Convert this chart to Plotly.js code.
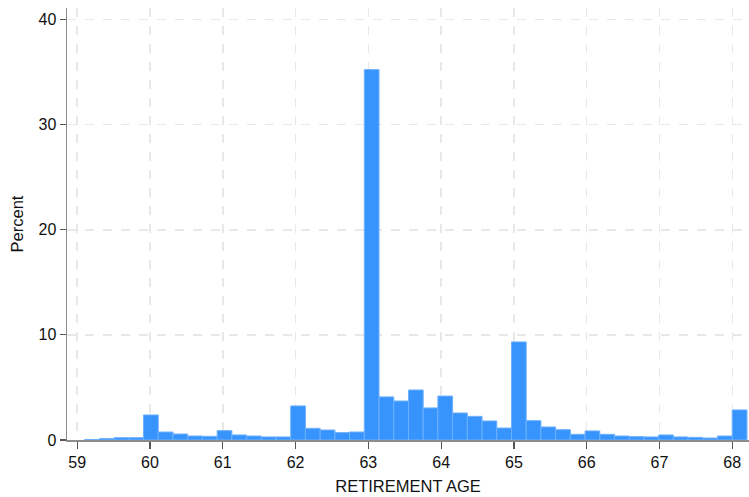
<!DOCTYPE html>
<html>
<head>
<meta charset="utf-8">
<script src="https://cdn.plot.ly/plotly-3.0.1.min.js"></script>
<style>
  html, body { margin: 0; padding: 0; background: #fff; overflow: hidden; }
  #chart { width: 749px; height: 497px; }
</style>
</head>
<body>
<div id="chart"></div>
<script>
// Histogram of retirement age: 45 equal-width bins, heights in percent
const binStart = 59.103;
const binWidth = 0.2022;
const percent = [
  0.05, 0.13, 0.22, 0.22, 2.38, 0.76, 0.57, 0.38, 0.35, 0.89,
  0.48, 0.38, 0.29, 0.29, 3.24, 1.11, 0.95, 0.70, 0.76, 35.24,
  4.10, 3.71, 4.76, 3.05, 4.18, 2.57, 2.25, 1.81, 1.14, 9.33,
  1.84, 1.24, 0.98, 0.54, 0.86, 0.54, 0.38, 0.32, 0.29, 0.48,
  0.29, 0.25, 0.19, 0.38, 2.86
];
const xTicks = [59, 60, 61, 62, 63, 64, 65, 66, 67, 68];
const yTicks = [0, 10, 20, 30, 40];

const centers = percent.map((_, i) => binStart + (i + 0.5) * binWidth);

const family = '"Liberation Sans", Arial, sans-serif';
const tickFont = { family: family, size: 16, color: '#111' };
const titleFont = { family: family, size: 16.5, color: '#111' };

const trace = {
  type: 'bar',
  x: centers,
  y: percent,
  width: binWidth,
  marker: { color: '#3894fd', line: { color: '#6cb0ff', width: 1 } },
  hoverinfo: 'x+y'
};

const axisCommon = {
  showgrid: true,
  gridcolor: '#e8e8e8',
  gridwidth: 1.5,
  griddash: 'dash',
  zeroline: false,
  showline: true,
  linecolor: '#8c8c8c',
  linewidth: 1.5,
  ticks: 'outside',
  tickcolor: '#555',
  tickwidth: 1.2,
  tickfont: tickFont
};

const layout = {
  width: 749,
  height: 497,
  margin: { l: 67, r: 0, t: 8, b: 57 },
  paper_bgcolor: '#fff',
  plot_bgcolor: '#fff',
  bargap: 0,
  showlegend: false,
  font: tickFont,
  xaxis: Object.assign({}, axisCommon, {
    range: [58.86, 68.23],
    tickvals: xTicks,
    ticklen: 7,
    title: { text: 'RETIREMENT AGE', font: titleFont, standoff: 10 }
  }),
  yaxis: Object.assign({}, axisCommon, {
    range: [0, 41.1],
    tickvals: yTicks,
    ticklen: 6,
    title: { text: 'Percent', font: titleFont, standoff: 10 }
  })
};

Plotly.newPlot('chart', [trace], layout, { displayModeBar: false, staticPlot: true });
</script>
</body>
</html>
